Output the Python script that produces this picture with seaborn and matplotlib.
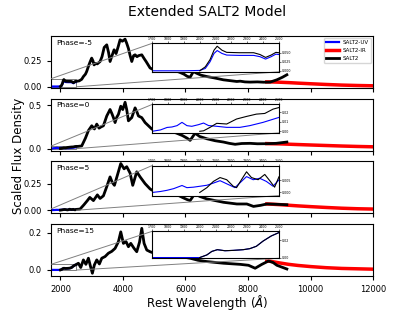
import matplotlib
matplotlib.use("Agg")
import matplotlib.pyplot as plt
import seaborn as sns
from mpl_toolkits.axes_grid1.inset_locator import mark_inset

phases = [-5, 0, 5, 15]

# SALT2-UV (blue)
uv_wave_m5 = [1700, 1800, 1900, 2000, 2035, 2065, 2090, 2110, 2140, 2170, 2250, 2340, 2380, 2415, 2450, 2480, 2500]
uv_flux_m5 = [0.0, 0.0, 0.0, 0.001, 0.0065, 0.025, 0.048, 0.056, 0.048, 0.0435, 0.0426, 0.0426, 0.039, 0.0324, 0.039, 0.046, 0.045]
uv_wave_0 = [1700, 1752, 1794, 1825, 1857, 1888, 1919, 1950, 1992, 2024, 2055, 2107, 2170, 2253, 2316, 2399, 2500]
uv_flux_0 = [0.0, 0.0014, 0.004, 0.0045, 0.0059, 0.0093, 0.0059, 0.0052, 0.0069, 0.0086, 0.006, 0.0052, 0.0041, 0.0041, 0.0059, 0.0093, 0.0145]
uv_wave_5 = [1700, 1752, 1794, 1836, 1888, 1919, 1960, 2003, 2045, 2086, 2128, 2180, 2222, 2263, 2295, 2337, 2378, 2420, 2462, 2500]
uv_flux_5 = [0.0, 0.0004, 0.0009, 0.0016, 0.0029, 0.002, 0.0022, 0.0026, 0.003, 0.0039, 0.0049, 0.0033, 0.002, 0.0046, 0.0066, 0.0053, 0.0059, 0.0046, 0.0026, 0.0053]
uv_wave_15 = [1700, 1800, 1900, 2000, 2045, 2076, 2111, 2159, 2211, 2274, 2316, 2357, 2399, 2451, 2500]
uv_flux_15 = [0.0, 0.0, 0.0, 0.0, 0.003, 0.007, 0.009, 0.0078, 0.0082, 0.009, 0.0102, 0.0129, 0.0188, 0.0247, 0.0286]

# SALT2-IR (red)
ir_wave = [8600, 8700, 9000, 9300, 9600, 10000, 10500, 11000, 11500, 12000]
ir_flux_m5 = [0.045, 0.045, 0.042, 0.038, 0.033, 0.027, 0.02, 0.014, 0.01, 0.007]
ir_flux_0 = [0.057, 0.056, 0.054, 0.05, 0.046, 0.041, 0.035, 0.029, 0.024, 0.02]
ir_flux_5 = [0.058, 0.057, 0.052, 0.046, 0.04, 0.033, 0.025, 0.018, 0.013, 0.01]
ir_flux_15 = [0.047, 0.047, 0.038, 0.03, 0.024, 0.018, 0.012, 0.008, 0.006, 0.004]

# SALT2 (black)
s2_wave_m5 = [2000, 2035, 2065, 2090, 2110, 2140, 2170, 2250, 2340, 2380, 2415, 2450, 2480, 2500,
              2600, 2680, 2735, 2800, 2840, 2900, 2950, 3000, 3040, 3076, 3130, 3180, 3268, 3330,
              3400, 3482, 3540, 3588, 3650, 3716, 3780, 3850, 3908, 3980, 4068, 4120, 4175, 4230,
              4282, 4340, 4388, 4450, 4500, 4602, 4680, 4740, 4868, 5000, 5200, 5400, 5600, 5800,
              5950, 6050, 6148, 6254, 6350, 6500, 6681, 6900, 7214, 7400, 7642, 7750, 7900, 8068,
              8300, 8500, 8708, 8922, 9100, 9242]
s2_flux_m5 = [0.0, 0.011, 0.031, 0.057, 0.068, 0.057, 0.051, 0.05, 0.05, 0.045, 0.037, 0.0435, 0.051, 0.05,
              0.055, 0.07, 0.097, 0.12, 0.146, 0.2, 0.24, 0.276, 0.25, 0.21, 0.225, 0.22, 0.243, 0.29,
              0.38, 0.405, 0.33, 0.243, 0.3, 0.357, 0.32, 0.39, 0.454, 0.44, 0.46, 0.42, 0.37, 0.3,
              0.243, 0.3, 0.308, 0.29, 0.3, 0.308, 0.27, 0.243, 0.18, 0.16, 0.17, 0.18, 0.16, 0.14,
              0.12, 0.1, 0.09, 0.146, 0.13, 0.11, 0.097, 0.085, 0.065, 0.058, 0.049, 0.052, 0.045, 0.043,
              0.045, 0.042, 0.043, 0.065, 0.09, 0.114]
s2_wave_0 = [2000, 2024, 2065, 2107, 2170, 2232, 2295, 2357, 2410, 2462, 2500,
             2560, 2681, 2800, 2895, 3002, 3087, 3162, 3236, 3300, 3375, 3482, 3588, 3650, 3695,
             3748, 3800, 3855, 3930, 3994, 4068, 4120, 4175, 4230, 4281, 4388, 4450, 4495, 4601,
             4708, 4815, 4921, 5100, 5300, 5500, 5700, 5900, 6050, 6148, 6308, 6450, 6681, 6950,
             7214, 7400, 7588, 7800, 8068, 8300, 8602, 8900, 9242]
s2_flux_0 = [0.0, 0.0005, 0.0041, 0.0083, 0.0076, 0.0128, 0.0155, 0.0179, 0.0186, 0.0231, 0.0248,
             0.025, 0.03, 0.12, 0.207, 0.263, 0.226, 0.282, 0.235, 0.25, 0.263, 0.376, 0.451, 0.4, 0.357,
             0.3, 0.36, 0.395, 0.489, 0.45, 0.534, 0.45, 0.32, 0.34, 0.357, 0.47, 0.42, 0.376, 0.357,
             0.3, 0.263, 0.226, 0.2, 0.21, 0.2, 0.18, 0.15, 0.12, 0.094, 0.177, 0.14, 0.113, 0.09,
             0.075, 0.06, 0.049, 0.058, 0.06, 0.055, 0.056, 0.06, 0.075]
s2_wave_5 = [2000, 2045, 2086, 2128, 2170, 2211, 2232, 2263, 2295, 2326, 2368, 2410, 2445, 2472, 2500,
             2628, 2750, 2862, 2940, 3055, 3182, 3268, 3375, 3480, 3588, 3660, 3727, 3822, 3930,
             4036, 4121, 4228, 4313, 4441, 4548, 4708, 4868, 4921, 5100, 5300, 5500, 5700, 5900,
             6050, 6148, 6308, 6450, 6681, 6950, 7214, 7642, 7962, 8175, 8400, 8602, 8900, 9242]
s2_flux_5 = [0.0, 0.002, 0.0046, 0.0062, 0.0053, 0.0026, 0.002, 0.0053, 0.0086, 0.0062, 0.0053, 0.0075, 0.0046, 0.0022, 0.0066,
             0.01, 0.05, 0.09, 0.12, 0.09, 0.144, 0.11, 0.135, 0.22, 0.314, 0.26, 0.234, 0.33, 0.44,
             0.39, 0.41, 0.35, 0.234, 0.362, 0.314, 0.25, 0.2, 0.19, 0.18, 0.19, 0.17, 0.15, 0.12,
             0.1, 0.09, 0.16, 0.13, 0.106, 0.09, 0.074, 0.058, 0.058, 0.035, 0.045, 0.058, 0.055, 0.051]
s2_wave_15 = [2000, 2045, 2076, 2111, 2159, 2211, 2274, 2316, 2357, 2399, 2451, 2500,
              2575, 2650, 2735, 2815, 2895, 2960, 3022, 3086, 3162, 3246, 3322, 3428, 3535, 3642,
              3748, 3855, 3930, 4014, 4100, 4175, 4250, 4356, 4441, 4530, 4602, 4676, 4762, 4868,
              5000, 5300, 5600, 5900, 6148, 6400, 6681, 7214, 7748, 8015, 8228, 8442, 8655, 8800,
              8922, 9242]
s2_flux_15 = [0.0, 0.003, 0.007, 0.009, 0.0078, 0.0082, 0.009, 0.0102, 0.0129, 0.0188, 0.0247, 0.0286,
              0.036, 0.013, 0.054, 0.03, 0.063, 0.02, -0.018, 0.027, 0.054, 0.032, 0.063, 0.072, 0.09, 0.1,
              0.116, 0.152, 0.205, 0.143, 0.152, 0.125, 0.143, 0.116, 0.098, 0.15, 0.224, 0.143, 0.107, 0.098,
              0.09, 0.1, 0.085, 0.07, 0.063, 0.052, 0.045, 0.036, 0.03, 0.025, 0.009, 0.03, 0.048, 0.04,
              0.025, 0.005]

uv_waves = [uv_wave_m5, uv_wave_0, uv_wave_5, uv_wave_15]
uv_fluxes = [uv_flux_m5, uv_flux_0, uv_flux_5, uv_flux_15]
ir_fluxes = [ir_flux_m5, ir_flux_0, ir_flux_5, ir_flux_15]
s2_waves = [s2_wave_m5, s2_wave_0, s2_wave_5, s2_wave_15]
s2_fluxes = [s2_flux_m5, s2_flux_0, s2_flux_5, s2_flux_15]

main_ylims = [(-0.013, 0.49), (-0.023, 0.575), (-0.029, 0.46), (-0.032, 0.247)]
main_yticks = [[0, 0.25], [0, 0.5], [0, 0.25], [0, 0.2]]
inset_ylims = [(-0.0028, 0.076), (-0.0017, 0.028), (-0.0013, 0.0112), (-0.0008, 0.030)]
inset_yticks = [[0, 0.025, 0.05], [0, 0.01, 0.02], [0, 0.005], [0, 0.02]]
inset_boxes = [[0.314, 0.31, 0.394, 0.55], [0.314, 0.34, 0.394, 0.55],
               [0.314, 0.34, 0.394, 0.58], [0.314, 0.34, 0.394, 0.52]]

fig, axes = plt.subplots(4, 1, sharex=True, figsize=(4.15, 3.11), dpi=100)
fig.subplots_adjust(left=0.123, right=0.899, top=0.884, bottom=0.113, hspace=0.21)

for i, ax in enumerate(axes):
    first = i == 0
    sns.lineplot(x=uv_waves[i], y=uv_fluxes[i], ax=ax, color='blue', lw=1.6,
                 label='SALT2-UV' if first else None)
    sns.lineplot(x=ir_wave, y=ir_fluxes[i], ax=ax, color='red', lw=2.5,
                 label='SALT2-IR' if first else None)
    sns.lineplot(x=s2_waves[i], y=s2_fluxes[i], ax=ax, color='black', lw=2,
                 label='SALT2' if first else None)
    ax.set_xlim(1700, 12000)
    ax.set_ylim(*main_ylims[i])
    ax.set_yticks(main_yticks[i])
    ax.tick_params(labelsize=6, length=3)
    ax.text(0.015, 0.93, 'Phase=%d' % phases[i], transform=ax.transAxes,
            fontsize=5.4, va='top', ha='left')
    if first:
        ax.legend(loc='upper right', fontsize=4, handlelength=2.3, borderaxespad=0.3)
    elif ax.get_legend() is not None:
        ax.get_legend().remove()

    # zoom on the UV end
    axins = ax.inset_axes(inset_boxes[i])
    sns.lineplot(x=uv_waves[i], y=uv_fluxes[i], ax=axins, color='blue', lw=0.8)
    sns.lineplot(x=s2_waves[i], y=s2_fluxes[i], ax=axins, color='black', lw=0.8)
    axins.set_xlim(1700, 2500)
    axins.set_ylim(*inset_ylims[i])
    axins.set_xticks(range(1700, 2501, 100))
    axins.set_yticks(inset_yticks[i])
    axins.xaxis.tick_top()
    axins.yaxis.tick_right()
    axins.tick_params(labelsize=2.3, length=1.5, width=0.4, pad=0.5)
    mark_inset(ax, axins, loc1=2, loc2=4, fc='none', ec='0.5', lw=0.7)

axes[-1].set_xticks([2000, 4000, 6000, 8000, 10000, 12000])

fig.suptitle('Extended SALT2 Model', fontsize=10, x=0.5, y=0.985)
fig.text(0.5, 0.027, r'Rest Wavelength ($\AA$)', fontsize=8.5, ha='center', va='center')
fig.text(0.045, 0.5, 'Scaled Flux Density', fontsize=8.5, rotation=90, ha='center', va='center')

fig.savefig('out.png', dpi=100)
